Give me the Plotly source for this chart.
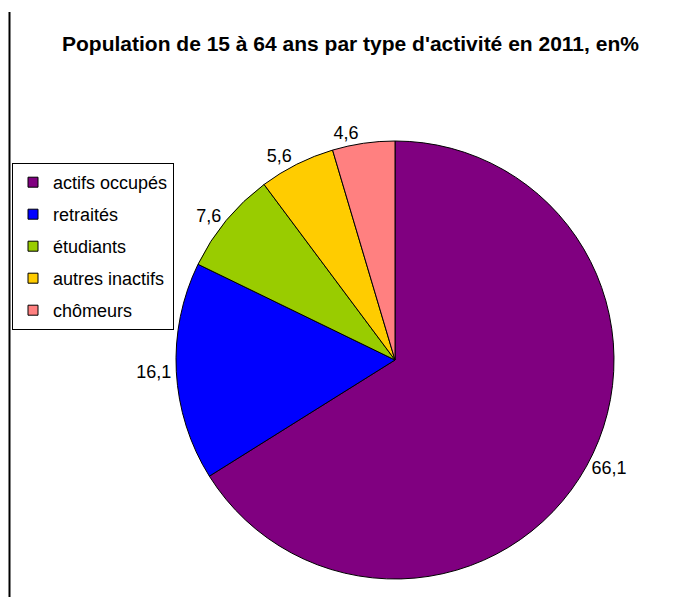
import plotly.graph_objects as go

categories = ["actifs occupés", "retraités", "étudiants", "autres inactifs", "chômeurs"]
values = [66.1, 16.1, 7.6, 5.6, 4.6]
value_labels = ["66,1", "16,1", "7,6", "5,6", "4,6"]
colors = ["#800080", "#0000FF", "#99CC00", "#FFCC00", "#FF8080"]
title_text = "Population de 15 à 64 ans par type d'activité en 2011, en%"

W, H = 697, 597
cx, cy, r = 395, 360, 219
FONT = "Liberation Sans, Arial, sans-serif"

fig = go.Figure()
fig.add_trace(go.Pie(
    labels=categories,
    values=values,
    text=value_labels,
    textinfo="text",
    textposition="outside",
    textfont=dict(family=FONT, size=18, color="black"),
    marker=dict(colors=colors, line=dict(color="black", width=1)),
    sort=False,
    direction="clockwise",
    rotation=0,
    hoverinfo="label+value",
    showlegend=False,
    domain=dict(x=[(cx - r) / W, (cx + r) / W], y=[(H - cy - r) / H, (H - cy + r) / H]),
))

# legend entries (one group per category so the spacing can be set)
for cat, col in zip(categories, colors):
    fig.add_trace(go.Scatter(
        x=[None], y=[None], mode="markers", name=cat, legendgroup=cat,
        marker=dict(symbol="square", size=10, color=col, line=dict(color="black", width=1)),
        hoverinfo="skip",
    ))

fig.update_layout(
    width=W, height=H,
    margin=dict(l=0, r=0, t=0, b=0),
    paper_bgcolor="white",
    plot_bgcolor="white",
    font=dict(family=FONT, size=18, color="black"),
    showlegend=True,
    xaxis=dict(visible=False),
    yaxis=dict(visible=False),
    legend=dict(
        x=12 / W, y=(H - 163) / H, xanchor="left", yanchor="top",
        bordercolor="black", borderwidth=1, bgcolor="white",
        font=dict(family=FONT, size=18, color="black"),
        itemclick=False, itemdoubleclick=False,
        tracegroupgap=5.6, traceorder="grouped",
        itemwidth=30,
    ),
    annotations=[dict(
        text="<b>" + title_text + "</b>",
        x=60 / W, y=(H - 43) / H, xref="paper", yref="paper",
        xanchor="left", yanchor="middle", showarrow=False,
        font=dict(family=FONT, size=21, color="black"),
    )],
    shapes=[dict(type="line", xref="paper", yref="paper",
                 x0=9.5 / W, x1=9.5 / W, y0=0, y1=(H - 12) / H,
                 line=dict(color="black", width=2))],
)

fig.write_html("out.html", config={"displayModeBar": False},
               post_script="document.body.style.margin='0';document.body.style.overflow='hidden';")
